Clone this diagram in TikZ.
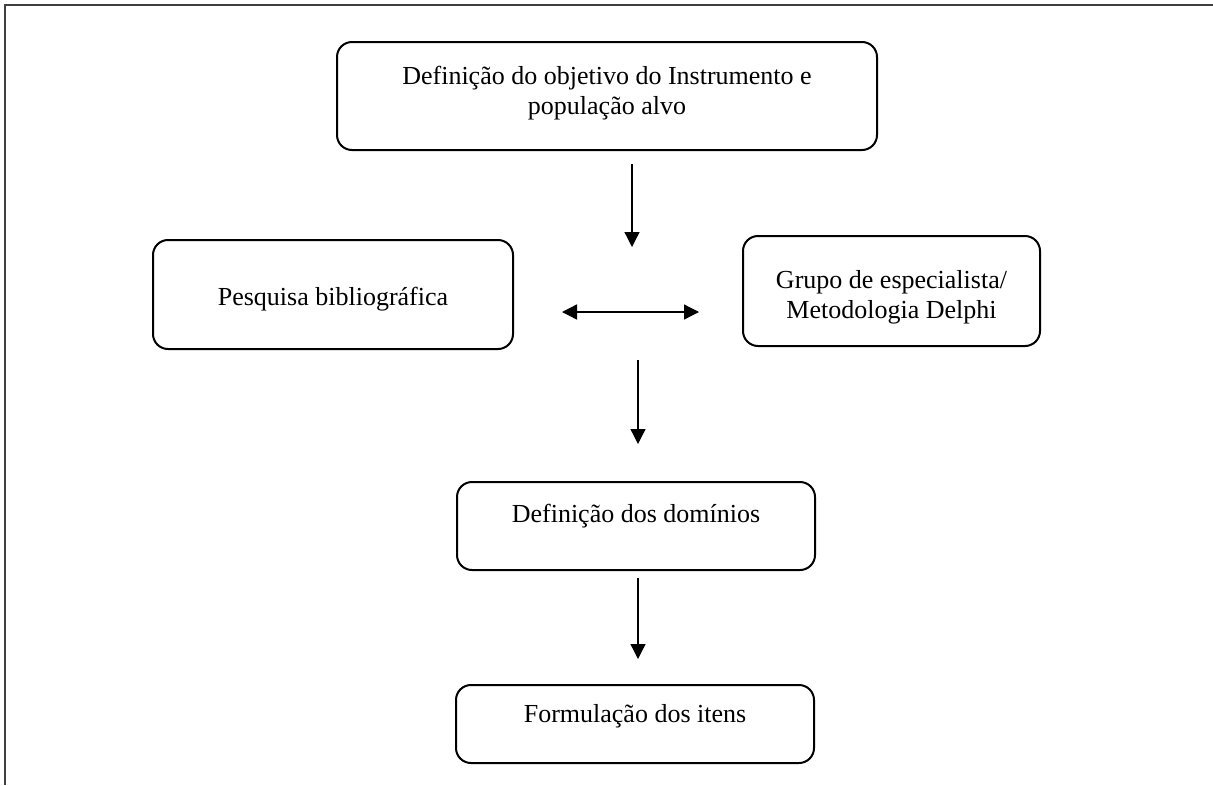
\documentclass[tikz,border=0pt]{standalone}
\usepackage{fontspec}
\setmainfont{Liberation Serif}
\usetikzlibrary{arrows.meta}
\begin{document}
\begin{tikzpicture}[x=1pt,y=-1pt,
  stepbox/.style={draw=black, line width=2pt, rounded corners=15pt, inner sep=0pt},
  steptext/.style={align=center, font=\fontsize{26}{30}\selectfont, inner sep=0pt},
  flow/.style={line width=1.3pt, -{Triangle[length=15pt,width=15pt]}},
  biflow/.style={line width=1.3pt, {Triangle[length=15pt,width=15pt]}-{Triangle[length=15pt,width=15pt]}},
  cellframe/.style={draw=black!75, line width=2pt}]
\useasboundingbox (0,0) rectangle (1213,785);
% table cell border (top and left sides)
\draw[cellframe] (5,785) -- (5,5) -- (1213,5);

% boxes
\node[stepbox, minimum width=540pt, minimum height=108pt] (obj) at (607,96) {};
\node[stepbox, minimum width=360pt, minimum height=109pt] (pesq) at (333,294.5) {};
\node[stepbox, minimum width=297pt, minimum height=110pt] (grupo) at (891.5,291) {};
\node[stepbox, minimum width=358pt, minimum height=88pt] (dom) at (636,526) {};
\node[stepbox, minimum width=358pt, minimum height=78pt] (form) at (635,724) {};

% box texts (yshift is in page direction: positive moves up)
\node[steptext] (objt) at ([yshift=3pt]obj.center)
  {Definição do objetivo do Instrumento e\\população alvo};
\node[steptext] (pesqt) at ([yshift=-5pt]pesq.center) {Pesquisa bibliográfica};
\node[steptext] (grupot) at ([yshift=-6pt]grupo.center)
  {Grupo de especialista/\\Metodologia Delphi};
\node[steptext] (domt) at ([yshift=10pt]dom.center) {Definição dos domínios};
\node[steptext] (formt) at ([yshift=8pt]form.center) {Formulação dos itens};

% connector end points
\coordinate (a1s) at (632,164);
\coordinate (a1e) at (632,247);
\coordinate (a2s) at (562,312);
\coordinate (a2e) at (699,312);
\coordinate (a3s) at (638,360);
\coordinate (a3e) at (638,444);
\coordinate (a4s) at (638,578);
\coordinate (a4e) at (638,659);

\draw[flow] (a1s) -- (a1e);
\draw[biflow] (a2s) -- (a2e);
\draw[flow] (a3s) -- (a3e);
\draw[flow] (a4s) -- (a4e);
\end{tikzpicture}
\end{document}
